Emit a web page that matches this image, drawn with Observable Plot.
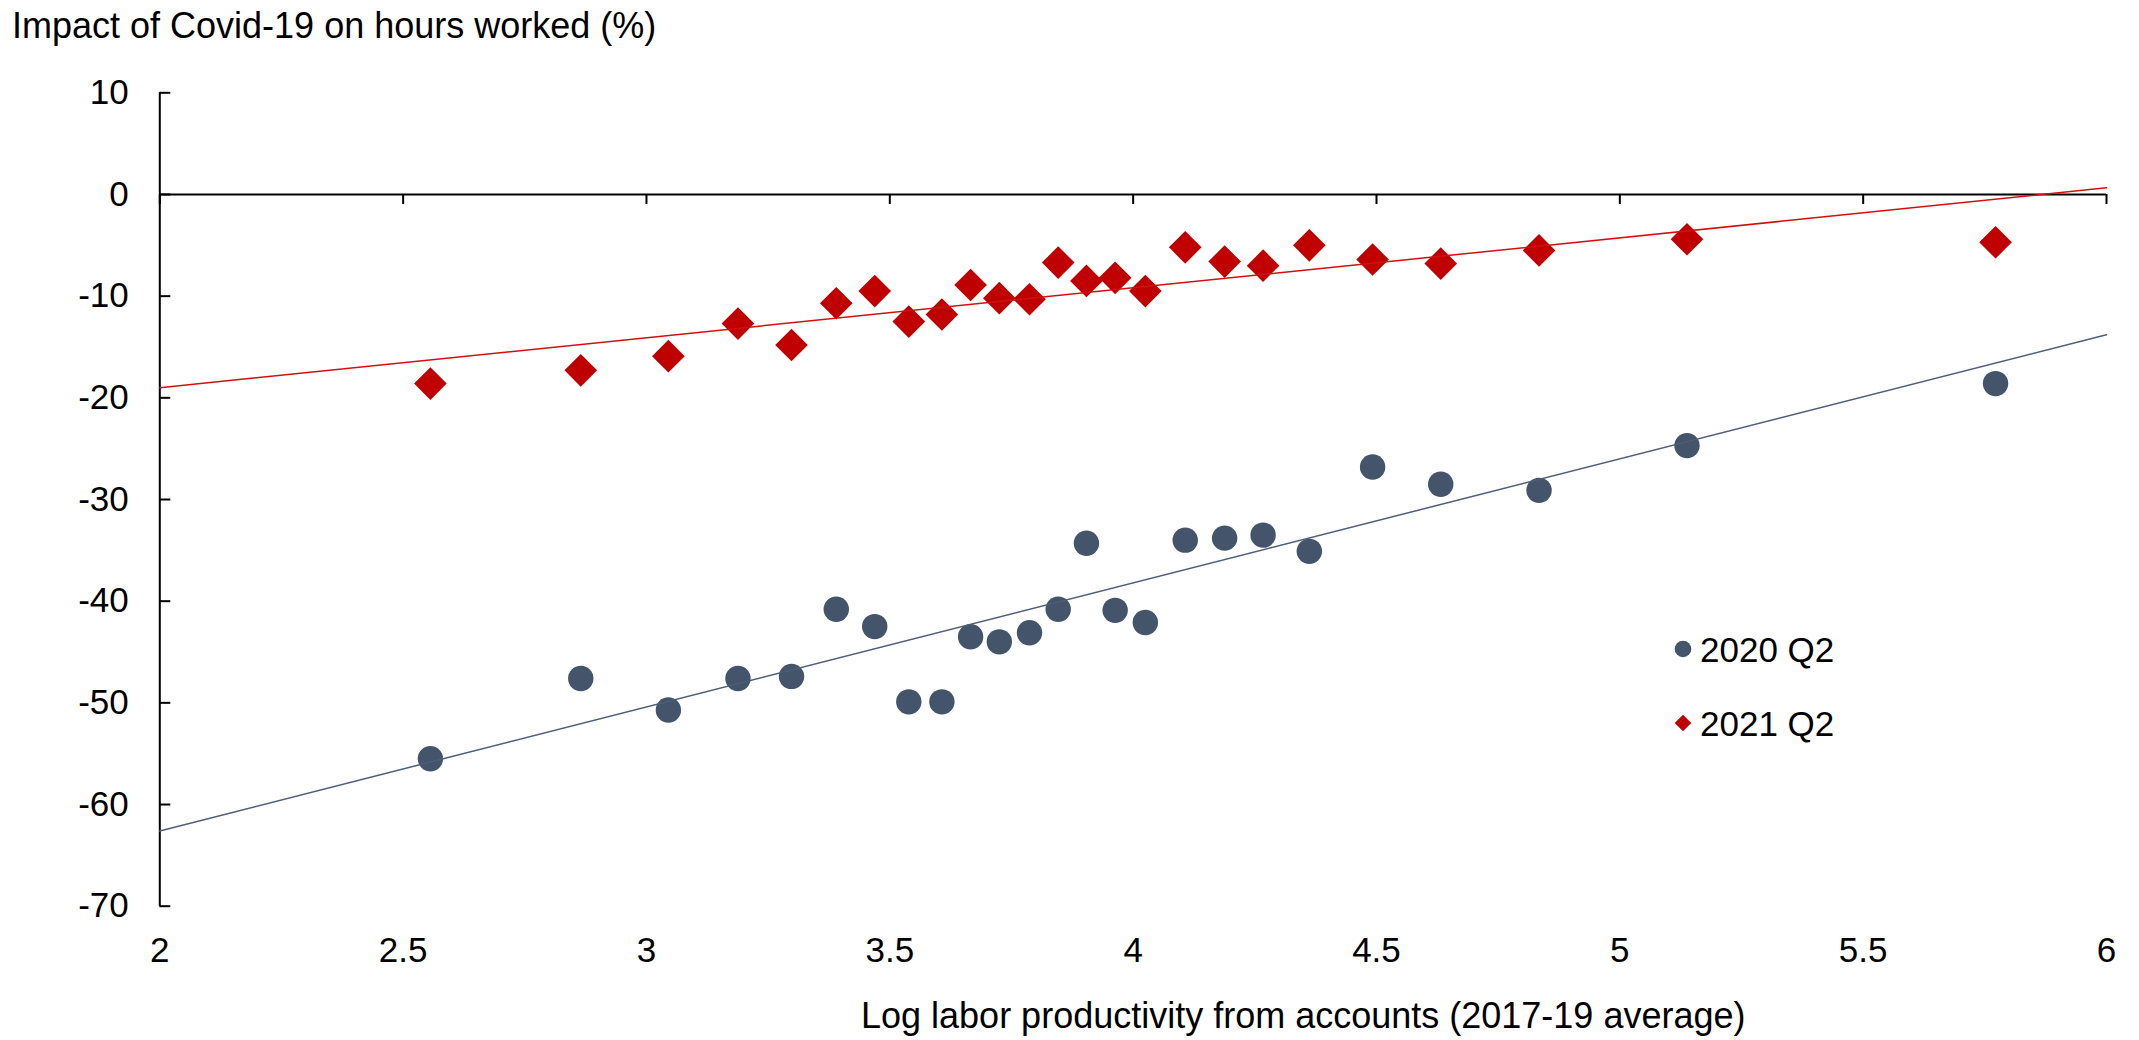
<!DOCTYPE html>
<html>
<head>
<meta charset="utf-8">
<script src="https://cdn.jsdelivr.net/npm/d3@7"></script>
<script src="https://cdn.jsdelivr.net/npm/@observablehq/plot@0.6"></script>
<style>
  html, body { margin: 0; padding: 0; background: #fff; overflow: hidden; }
  #wrap { position: relative; width: 2139px; height: 1040px; font-family: "Liberation Sans", Arial, sans-serif; color: #000; }
  .txt { position: absolute; white-space: nowrap; line-height: 40px; }
  #title { left: 12px; top: 5.5px; font-size: 36px; }
  #xcap { left: 861px; top: 995.5px; font-size: 36px; }
  #chart { position: absolute; left: 0; top: 56px; }
  .leg { font-size: 35px; }
  .mk { position: absolute; width: 24px; height: 24px; }
</style>
</head>
<body>
<div id="wrap">
  <div id="title" class="txt">Impact of Covid-19 on hours worked (%)</div>
  <div id="chart"></div>
  <div id="xcap" class="txt">Log labor productivity from accounts (2017-19 average)</div>
  <svg class="mk" style="left:1670.7px; top:637.3px" viewBox="0 0 24 24"><circle cx="12" cy="12" r="8.3" fill="#44546A"/></svg>
  <div class="txt leg" style="left:1700px; top:629.9px">2020 Q2</div>
  <svg class="mk" style="left:1671.3px; top:711.3px" viewBox="0 0 24 24"><polygon points="12,3.7 20.3,12 12,20.3 3.7,12" fill="#C00000"/></svg>
  <div class="txt leg" style="left:1700px; top:703.9px">2021 Q2</div>
</div>
<script>
// Log labor productivity (2017-19 average), one value per industry
const productivity = [2.556, 2.865, 3.045, 3.188, 3.298, 3.390, 3.469, 3.539, 3.607, 3.666,
                      3.725, 3.787, 3.846, 3.904, 3.963, 4.025, 4.107, 4.188, 4.267, 4.362,
                      4.492, 4.632, 4.834, 5.138, 5.772];
// Impact of Covid-19 on hours worked (%), 2020 Q2
const impact2020 = [-55.5, -47.6, -50.7, -47.6, -47.4, -40.8, -42.5, -49.9, -49.9, -43.5,
                    -44.0, -43.1, -40.8, -34.3, -40.9, -42.1, -34.0, -33.8, -33.5, -35.1,
                    -26.8, -28.5, -29.1, -24.7, -18.6];
// Impact of Covid-19 on hours worked (%), 2021 Q2
const impact2021 = [-18.6, -17.3, -15.9, -12.7, -14.8, -10.7, -9.5, -12.5, -11.8, -8.9,
                    -10.2, -10.3, -6.7, -8.5, -8.2, -9.5, -5.2, -6.6, -7.0, -5.0,
                    -6.4, -6.8, -5.5, -4.4, -4.7];
// Linear trend lines, read at the ends of the x axis
const trendX = [2, 6];
const trend2020 = [-62.6, -13.8];
const trend2021 = [-19.0, 0.65];
// Axis ticks
const xTicks = [2, 2.5, 3, 3.5, 4, 4.5, 5, 5.5, 6];
const yTicks = [10, 0, -10, -20, -30, -40, -50, -60, -70];
const xDomain = [2, 6];
const yDomain = [-70, 10];

const pts2020 = productivity.map((x, i) => ({x, y: impact2020[i]}));
const pts2021 = productivity.map((x, i) => ({x, y: impact2021[i]}));
const tr2020 = trendX.map((x, i) => ({x, y: trend2020[i]}));
const tr2021 = trendX.map((x, i) => ({x, y: trend2021[i]}));

const chart = Plot.plot({
  width: 2139,
  height: 924,
  marginTop: 36.3,
  marginBottom: 74.3,
  marginLeft: 159.3,
  marginRight: 33,
  x: {domain: xDomain},
  y: {domain: yDomain},
  style: {fontFamily: "'Liberation Sans', Arial, sans-serif", fontSize: "35px", color: "#000", background: "#fff"},
  marks: [
    Plot.axisX(xTicks, {anchor: "bottom", tickSize: 0, tickPadding: 30.5, label: null, tickFormat: d => String(d), fontSize: 35}),
    Plot.axisY(yTicks, {anchor: "left", tickSize: 0, tickPadding: 31, label: null, tickFormat: d => String(d), fontSize: 35}),
    // y ticks pointing inward
    Plot.ruleY(yTicks, {y: d => d, x1: xDomain[0], x2: xDomain[0], insetRight: -11, stroke: "#000", strokeWidth: 2}),
    // x ticks hanging below the zero line
    Plot.ruleX(xTicks, {x: d => d, y1: 0, y2: 0, insetBottom: -10, stroke: "#000", strokeWidth: 2}),
    Plot.ruleY([0], {stroke: "#000", strokeWidth: 2}),
    Plot.ruleX([xDomain[0]], {stroke: "#000", strokeWidth: 2}),
    Plot.dot(pts2020, {x: "x", y: "y", r: 12.7, fill: "#44546A", stroke: "none"}),
    Plot.dot(pts2021, {x: "x", y: "y", r: 14.7, symbol: "diamond2", fill: "#C00000", stroke: "none"}),
    Plot.line(tr2020, {x: "x", y: "y", stroke: "#4E5D78", strokeWidth: 1.5}),
    Plot.line(tr2021, {x: "x", y: "y", stroke: "#D01010", strokeWidth: 1.5})
  ]
});
document.getElementById("chart").appendChild(chart);
</script>
</body>
</html>
